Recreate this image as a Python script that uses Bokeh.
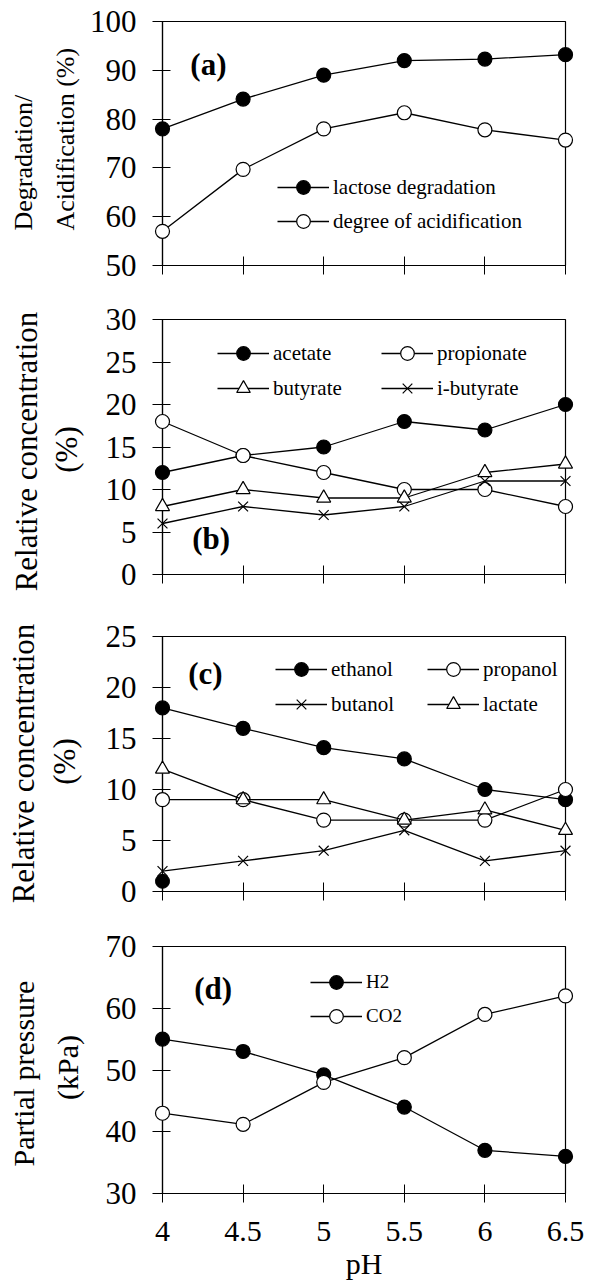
import math
from bokeh.plotting import figure
from bokeh.layouts import column
from bokeh.models import FixedTicker, Legend, LegendItem, Label, Range1d
from bokeh.core.properties import value
from bokeh.embed import file_html
from bokeh.resources import INLINE

# ---------------- data ----------------
ph = [4.0, 4.5, 5.0, 5.5, 6.0, 6.5]
x_tick_labels = ["4", "4.5", "5", "5.5", "6", "6.5"]

lactose_degradation = [78.0, 84.1, 89.0, 92.0, 92.3, 93.2]
degree_acidification = [57.0, 69.7, 78.0, 81.3, 77.8, 75.7]

acetate = [12.0, 14.0, 15.0, 18.0, 17.0, 20.0]
propionate = [18.0, 14.0, 12.0, 10.0, 10.0, 8.0]
butyrate = [8.0, 10.0, 9.0, 9.0, 12.0, 13.0]
i_butyrate = [6.0, 8.0, 7.0, 8.0, 11.0, 11.0]

ethanol = [18.0, 16.0, 14.1, 13.0, 10.0, 9.0]
ethanol_extra_ph = [4.0]
ethanol_extra = [1.0]
propanol = [9.0, 9.0, 7.0, 7.0, 7.0, 10.0]
butanol = [2.0, 3.0, 4.0, 6.0, 3.0, 4.0]
lactate = [12.0, 9.0, 9.0, 7.0, 8.0, 6.0]

h2 = [55.0, 53.0, 49.2, 44.0, 37.0, 36.0]
co2 = [43.0, 41.2, 48.0, 52.0, 59.0, 62.0]

FONT = "Liberation Serif"
LW = 1.3
MS = 14
W = 590


class Panel:
    def __init__(self, height, top, bottom, left, right, yr, yticks, show_x):
        self.left, self.right, self.top = left, right, top
        self.fw = W - left - right
        self.fh = height - top - bottom
        self.yr = yr
        p = figure(width=W, height=height, x_range=Range1d(ph[0], ph[-1]), y_range=Range1d(*yr),
                   output_backend="svg", toolbar_location=None,
                   min_border_top=top, min_border_bottom=bottom,
                   min_border_left=left, min_border_right=right)
        p.grid.visible = False
        p.outline_line_color = "black"
        p.outline_line_width = 1.2
        p.background_fill_color = "white"
        p.border_fill_color = "white"

        ya = p.yaxis[0]
        ya.ticker = FixedTicker(ticks=yticks)
        ya.minor_tick_line_color = None
        ya.major_tick_in = 8
        ya.major_tick_out = 10
        ya.axis_line_width = 1.2
        ya.major_label_standoff = 16
        ya.major_label_text_font = FONT
        ya.major_label_text_font_size = "31px"
        ya.major_label_text_color = "black"

        xa = p.xaxis[0]
        xa.ticker = FixedTicker(ticks=ph)
        xa.major_label_overrides = {t: s for t, s in zip(ph, x_tick_labels)}
        xa.minor_tick_line_color = None
        xa.major_tick_in = 9
        xa.major_tick_out = 9
        xa.axis_line_width = 1.2
        if show_x:
            xa.major_label_standoff = 19
            xa.major_label_text_font = FONT
            xa.major_label_text_font_size = "30px"
            xa.major_label_text_color = "black"
            xa.axis_label = "pH"
            xa.axis_label_text_font = FONT
            xa.axis_label_text_font_size = "30px"
            xa.axis_label_text_font_style = "normal"
            xa.axis_label_text_color = "black"
            xa.axis_label_standoff = 3
        else:
            xa.major_label_text_font_size = "1px"
            xa.major_label_text_color = None
            xa.major_label_standoff = 0
        self.p = p

    # pixel (within this figure) -> data coordinates, for placing texts
    def dx(self, px):
        return ph[0] + (px - self.left) / self.fw * (ph[-1] - ph[0])

    def dy(self, py):
        y0, y1 = self.yr
        return y0 + (self.top + self.fh - py) / self.fh * (y1 - y0)

    def series(self, y, marker, fill):
        ln = self.p.line(ph, y, line_color="black", line_width=LW, level="overlay")
        sc = self.p.scatter(ph, y, marker=marker, size=MS, fill_color=fill, line_color="black",
                            line_width=1.2, level="overlay")
        return [ln, sc]

    def legend(self, items, loc, fs="21px", spacing=-3):
        leg = Legend(items=[LegendItem(label=t, renderers=r) for t, r in items],
                     location=loc, orientation="vertical", glyph_width=52, glyph_height=34,
                     label_standoff=4, spacing=spacing, padding=0, margin=0,
                     border_line_color=None, background_fill_alpha=0,
                     label_text_font=FONT, label_text_font_size=fs, label_text_color="black")
        self.p.add_layout(leg, "center")

    def tag(self, px, py, text):
        self.p.add_layout(Label(x=self.dx(px), y=self.dy(py), text=text, text_font=FONT,
                                text_font_style="bold", text_font_size="31px",
                                text_baseline="middle", text_align="left", text_color="black"))

    def ylabel(self, lines, size):
        for text, px, py, align in lines:
            self.p.text(x=[self.dx(px)], y=[self.dy(py)], text=[text], angle=math.pi / 2,
                        text_font=value(FONT), text_font_size=value(size),
                        text_align=align, text_baseline="middle", text_color="black",
                        level="overlay")


# ---------------- panel (a) ----------------
A = Panel(300, 21, 35, 160, 25, (50, 100), [50, 60, 70, 80, 90, 100], False)
ra1 = A.series(lactose_degradation, "circle", "black")
ra2 = A.series(degree_acidification, "circle", "white")
A.legend([("lactose degradation", ra1), ("degree of acidification", ra2)], (115, 27))
A.tag(188, 64, "(a)")
A.ylabel([("Degradation/", 20, 230, "left"), ("Acidification (%)", 63, 230, "left")], "26px")

# ---------------- panel (b) ----------------
B = Panel(310, 19, 36, 160, 22, (0, 30), [0, 5, 10, 15, 20, 25, 30], False)
rb1 = B.series(acetate, "circle", "black")
rb2 = B.series(propionate, "circle", "white")
rb3 = B.series(butyrate, "triangle", "white")
rb4 = B.series(i_butyrate, "x", "white")
B.legend([("acetate", rb1), ("butyrate", rb3)], (55, 169), spacing=1)
B.legend([("propionate", rb2), ("i-butyrate", rb4)], (219, 169), spacing=1)
B.tag(190, 538 - 300, "(b)")
B.ylabel([("Relative concentration", 22, 451 - 300, "center"), ("(%)", 63, 449 - 300, "center")], "31px")

# ---------------- panel (c) ----------------
C = Panel(310, 26, 29, 162, 21, (0, 25), [0, 5, 10, 15, 20, 25], False)
rc1 = C.series(ethanol, "circle", "black")
C.p.scatter(ethanol_extra_ph, ethanol_extra, marker="circle", size=MS, fill_color="black",
            line_color="black", level="overlay")
rc2 = C.series(propanol, "circle", "white")
rc3 = C.series(butanol, "x", "white")
rc4 = C.series(lactate, "triangle", "white")
C.legend([("ethanol", rc1), ("butanol", rc3)], (113, 170), spacing=1)
C.legend([("propanol", rc2), ("lactate", rc4)], (265, 170), spacing=1)
C.tag(188, 673 - 610, "(c)")
C.ylabel([("Relative concentration", 22, 763 - 610, "center"), ("(%)", 63, 761 - 610, "center")], "31px")

# ---------------- panel (d) ----------------
D = Panel(362, 26, 89, 162, 21, (30, 70), [30, 40, 50, 60, 70], True)
rd1 = D.series(h2, "circle", "black")
rd2 = D.series(co2, "circle", "white")
D.legend([("H2", rd1), ("CO2", rd2)], (148, 160), fs="19px", spacing=-1)
D.tag(194, 988 - 920, "(d)")
D.ylabel([("Partial pressure", 22, 1073 - 920, "center"), ("(kPa)", 66, 1067 - 920, "center")], "30px")

layout = column(A.p, B.p, C.p, D.p, spacing=0)

with open("out.html", "w") as f:
    f.write(file_html(layout, INLINE))
